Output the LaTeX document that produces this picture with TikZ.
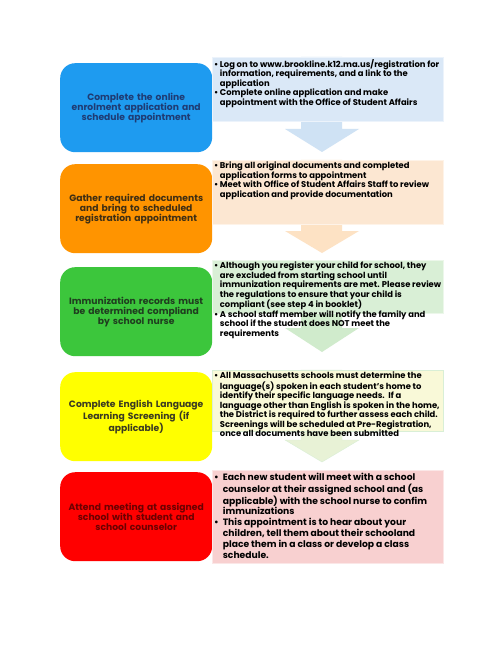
\documentclass[tikz,border=0pt]{standalone}
\usepackage{fontspec}
\setmainfont{Poppins}
\usetikzlibrary{positioning}
\definecolor{BlueStep}{HTML}{1E9BF0}
\definecolor{BlueText}{HTML}{1F3B73}
\definecolor{BlueInfo}{HTML}{DAE8F7}
\definecolor{BlueArrow}{HTML}{CFE2F4}
\definecolor{OrangeStep}{HTML}{FF9400}
\definecolor{OrangeText}{HTML}{3E2E14}
\definecolor{OrangeInfo}{HTML}{FCE7D2}
\definecolor{OrangeArrow}{HTML}{FDE2C4}
\definecolor{GreenStep}{HTML}{3CC63C}
\definecolor{GreenText}{HTML}{1F3D1F}
\definecolor{GreenInfo}{HTML}{D9EFD6}
\definecolor{GreenArrow}{HTML}{D0EBCC}
\definecolor{YellowStep}{HTML}{FFFF00}
\definecolor{YellowText}{HTML}{3A3A22}
\definecolor{YellowInfo}{HTML}{F9F9D8}
\definecolor{YellowArrow}{HTML}{E8F2D6}
\definecolor{RedStep}{HTML}{FF0000}
\definecolor{RedText}{HTML}{6B0000}
\definecolor{RedInfo}{HTML}{F8D0D0}
% bullet lists as two-column tabulars
\newenvironment{Bullets}{\begin{tabular}{@{}l@{\hspace{1.5pt}}l@{}}}{\end{tabular}}
\newenvironment{BigBullets}{\begin{tabular}{@{}l@{\hspace{4pt}}l@{}}}{\end{tabular}}

\begin{document}
\begin{tikzpicture}[x=1pt,y=-1pt,
	stepbox/.style={rounded corners=15pt, anchor=north west, inner sep=0pt, minimum width=152pt, minimum height=89pt, text width=148pt, align=center, font=\fontsize{9.2}{10}\selectfont\bfseries},
	infobox/.style={anchor=north west, inner sep=0pt, minimum width=231pt, minimum height=64pt, line width=0.6pt},
	infotext/.style={anchor=north west, inner sep=0pt, font=\fontsize{8.4}{9.2}\selectfont\bfseries}]
					\useasboundingbox[fill=white] (0,0) rectangle (500,647);
					\pgfmathsetmacro{\BoxL}{60}
					\pgfmathsetmacro{\InfoL}{212}
					\pgfmathsetmacro{\ShaftL}{301}
					\pgfmathsetmacro{\ShaftR}{342}
					\pgfmathsetmacro{\HeadL}{285}
					\pgfmathsetmacro{\HeadR}{359}
					\pgfmathsetmacro{\TipX}{322}
					% BLUE
					\fill[BlueArrow] (\ShaftL,57) -- (\ShaftR,57) -- (\ShaftR,129) -- (\HeadR,129) -- (\TipX,152) -- (\HeadL,129) -- (\ShaftL,129) -- cycle;
					\node[stepbox, fill=BlueStep, text=BlueText] (enrol) at (\BoxL,63) {Complete the online\\enrolment application and\\schedule appointment};
					\node[infobox, fill=BlueInfo, draw=BlueInfo!50!white] (enrolinfo) at (\InfoL,57) {};
					\node[infotext] at (214,59) {\begin{Bullets}
						\textbullet & Log on to www.brookline.k12.ma.us/registration for\\
						& information, requirements, and a link to the\\
						& application\\
						\textbullet & Complete online application and make\\
						& appointment with the Office of Student Affairs
					\end{Bullets}};
					% ORANGE
					\fill[OrangeArrow] (\ShaftL,160) -- (\ShaftR,160) -- (\ShaftR,231) -- (\HeadR,231) -- (\TipX,253) -- (\HeadL,231) -- (\ShaftL,231) -- cycle;
					\node[stepbox, fill=OrangeStep, text=OrangeText] (gather) at (\BoxL,164) {Gather required documents\\and bring to scheduled\\registration appointment};
					\node[infobox, fill=OrangeInfo, draw=OrangeInfo!50!white] (gatherinfo) at (\InfoL,160) {};
					\node[infotext] at (214,162) {\begin{Bullets}
						\textbullet & Bring all original documents and completed\\
						& application forms to appointment\\
						\textbullet & Meet with Office of Student Affairs Staff to review\\
						& application and provide documentation
					\end{Bullets}};
					% GREEN
					\fill[GreenArrow] (\ShaftL,260) -- (\ShaftR,260) -- (\ShaftR,328) -- (\HeadR,328) -- (\TipX,352) -- (\HeadL,328) -- (\ShaftL,328) -- cycle;
					\node[stepbox, fill=GreenStep, text=GreenText] (nurse) at (\BoxL,267) {Immunization records must\\be determined compliand\\by school nurse};
					\node[infobox, fill=GreenInfo, draw=GreenInfo!50!white, minimum height=53pt] (nurseinfo) at (\InfoL,260) {};
					\node[infotext] at (214,262) {\begin{Bullets}
						\textbullet & Although you register your child for school, they\\
						& are excluded from starting school until\\
						& immunization requirements are met. Please review\\
						& the regulations to ensure that your child is\\
						& compliant (see step 4 in booklet)\\
						\textbullet & A school staff member will notify the family and\\
						& school if the student does NOT meet the\\
						& requirements
					\end{Bullets}};
					% YELLOW
					\fill[YellowArrow, draw=GreenInfo] (\ShaftL,370) -- (\ShaftR,370) -- (\ShaftR,440) -- (\HeadR,440) -- (\TipX,462) -- (\HeadL,440) -- (\ShaftL,440) -- cycle;
					\node[stepbox, fill=YellowStep, text=YellowText] (screen) at (\BoxL,372) {Complete English Language\\Learning Screening (if\\applicable)};
					\node[infobox, fill=YellowInfo, draw=GreenInfo, minimum height=61pt] (screeninfo) at (\InfoL,370) {};
					\node[infotext] at (214,372) {\begin{Bullets}
						\textbullet & All Massachusetts schools must determine the\\
						& language(s) spoken in each student's home to\\
						& identify their specific language needs.\ \ If a\\
						& language other than English is spoken in the home,\\
						& the District is required to further assess each child.\\
						& Screenings will be scheduled at Pre-Registration,\\
						& once all documents have been submitted
					\end{Bullets}};
					% RED
					\node[stepbox, fill=RedStep, text=RedText] (meet) at (\BoxL,472) {Attend meeting at assigned\\school with student and\\school counselor};
					\node[infobox, fill=RedInfo, draw=RedInfo!50!white, minimum height=93pt] (meetinfo) at (\InfoL,470) {};
					\node[infotext, font=\fontsize{9.2}{10.8}\selectfont\bfseries] at (214,473) {\begin{BigBullets}
						\textbullet & Each new student will meet with a school\\
						& counselor at their assigned school and (as\\
						& applicable) with the school nurse to confim\\
						& immunizations\\
						\textbullet & This appointment is to hear about your\\
						& children, tell them about their schooland\\
						& place them in a class or develop a class\\
						& schedule.
					\end{BigBullets}};
				\end{tikzpicture}
\end{document}
